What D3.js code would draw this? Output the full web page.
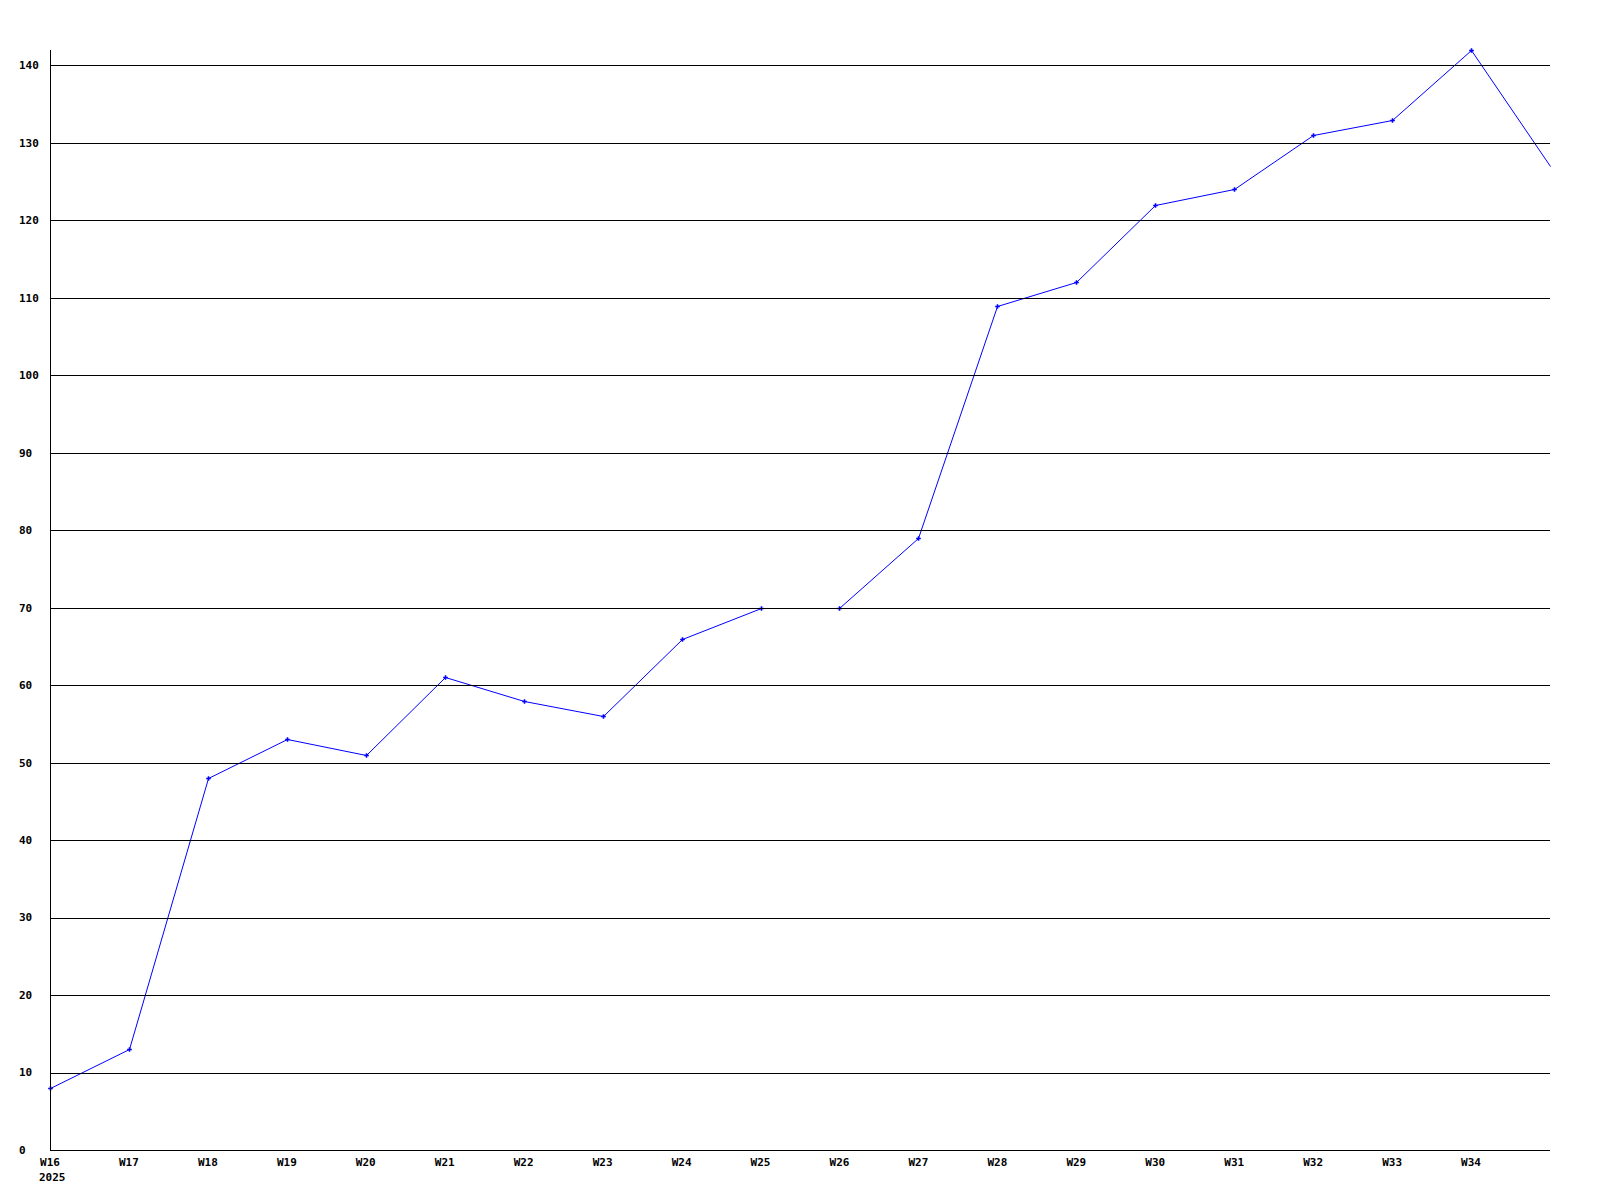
<!DOCTYPE html>
<html>
<head>
<meta charset="utf-8">
<script src="https://cdn.jsdelivr.net/npm/d3@7"></script>
<style>
  html, body { margin: 0; padding: 0; background: #fff; }
  svg text { font-family: "DejaVu Sans Mono", "Liberation Mono", monospace; font-weight: bold; font-size: 11px; fill: #000; }
</style>
</head>
<body>
<svg id="chart" width="1600" height="1200"></svg>
<script>
const weeks = ["W16","W17","W18","W19","W20","W21","W22","W23","W24","W25","W26","W27","W28","W29","W30","W31","W32","W33","W34","W35"];
const values = [8,13,48,53,51,61,58,56,66,70,70,79,109,112,122,124,131,133,142,127];
const yTicks = [0,10,20,30,40,50,60,70,80,90,100,110,120,130,140];
const xTickLabels = weeks.slice(0, 19);
const yearLabel = "2025";

(function () {
const svg = d3.select("#chart");
const mLeft = 50, mRight = 1550, mTop = 50, mBottom = 1150;

const x = d3.scalePoint().domain(weeks).range([mLeft, mRight]);
const y = d3.scaleLinear().domain([0, 142]).range([mBottom, mTop]);
const py = v => Math.round(y(v)) + 0.5;
const px = w => Math.round(x(w)) + 0.5;

// line
const line = d3.line().x((d, i) => px(weeks[i])).y(d => py(d));
svg.append("path")
  .datum(values)
  .attr("d", line)
  .attr("fill", "none")
  .attr("stroke", "#0000ff")
  .attr("stroke-width", 1);

// markers
svg.selectAll(".pt")
  .data(values.slice(0, 19))
  .enter().append("path")
  .attr("transform", (d, i) => `translate(${px(weeks[i])},${py(d)})`)
  .attr("d", d3.symbol().type(d3.symbolCross).size(12))
  .attr("fill", "#0000ff");

// gridlines
svg.selectAll(".grid")
  .data(yTicks.filter(t => t > 0))
  .enter().append("line")
  .attr("x1", mLeft).attr("x2", mRight)
  .attr("y1", d => py(d)).attr("y2", d => py(d))
  .attr("stroke", "#000").attr("stroke-width", 1);

// axes lines
svg.append("line").attr("x1", mLeft + 0.5).attr("x2", mLeft + 0.5).attr("y1", mTop).attr("y2", mBottom + 0.5)
  .attr("stroke", "#000");
svg.append("line").attr("x1", mLeft).attr("x2", mRight).attr("y1", mBottom + 0.5).attr("y2", mBottom + 0.5)
  .attr("stroke", "#000");

// y tick labels (left aligned)
svg.selectAll(".ylab")
  .data(yTicks)
  .enter().append("text")
  .attr("x", 19)
  .attr("y", d => y(d))
  .attr("dy", "0.35em")
  .attr("text-anchor", "start")
  .text(d => d);

// x tick labels
svg.selectAll(".xlab")
  .data(xTickLabels)
  .enter().append("text")
  .attr("x", d => x(d))
  .attr("y", 1162)
  .attr("dy", "0.35em")
  .attr("text-anchor", "middle")
  .text(d => d);

svg.append("text")
  .attr("x", 39)
  .attr("y", 1177)
  .attr("dy", "0.35em")
  .attr("text-anchor", "start")
  .text(yearLabel);
})();
</script>
</body>
</html>
